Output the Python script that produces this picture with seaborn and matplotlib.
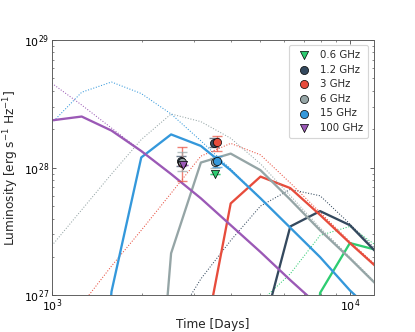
import numpy as np
import pandas as pd
import matplotlib
matplotlib.use("Agg")
import matplotlib.pyplot as plt
import seaborn as sns

# model time grid (days)
t_grid = [1000, 1259, 1585, 1995, 2512, 3162, 3981, 5012, 6310, 7943, 10000, 12589]
nan = np.nan

# log10 luminosity of the model curves (solid / dotted) per band
lum_06 = [nan, nan, nan, nan, nan, nan, nan, nan, 24.0, 27.02, 27.41, 27.35]
lum_06_dot = [nan, nan, nan, nan, nan, nan, 26.5, 26.95, 27.17, 27.47, 27.54, 27.37]
lum_12 = [nan, nan, nan, nan, nan, nan, 24.5, 26.66, 27.54, 27.66, 27.55, 27.31]
lum_12_dot = [nan, nan, nan, nan, 26.75, 27.13, 27.43, 27.70, 27.83, 27.78, 27.56, 27.33]
lum_3 = [nan, nan, nan, nan, nan, 26.5, 27.72, 27.93, 27.84, 27.63, 27.41, 27.20]
lum_3_dot = [26.6, 26.93, 27.23, 27.51, 27.80, 28.09, 28.19, 28.10, 27.88, 27.65, 27.42, 27.21]
lum_6 = [nan, nan, nan, 24.5, 27.33, 28.04, 28.11, 27.98, 27.75, 27.51, 27.29, 27.06]
lum_6_dot = [27.39, 27.67, 27.95, 28.22, 28.42, 28.36, 28.23, 28.03, 27.78, 27.53, 27.30, 27.07]
lum_15 = [nan, 24.0, 27.03, 28.08, 28.26, 28.17, 27.98, 27.76, 27.53, 27.30, 27.04, 26.82]
lum_15_dot = [28.35, 28.59, 28.67, 28.58, 28.42, 28.21, 27.99, 27.76, 27.53, 27.30, 27.04, 26.82]
lum_100 = [28.37, 28.40, 28.29, 28.13, 27.95, 27.76, 27.55, 27.34, 27.12, 26.91, 26.70, 26.50]
lum_100_dot = [28.66, 28.49, 28.31, 28.13, 27.95, 27.76, 27.55, 27.34, 27.12, 26.91, 26.70, 26.50]

# observed points
bands = ["0.6 GHz", "1.2 GHz", "3 GHz", "6 GHz", "15 GHz", "100 GHz"]
colors = ["#2ecc71", "#34495e", "#e74c3c", "#95a5a6", "#3498db", "#9b59b6"]
markers = ["v", "o", "o", "o", "o", "v"]
obs_t = {
    "0.6 GHz": [3530],
    "1.2 GHz": [2720, 3490],
    "3 GHz": [2733, 3580],
    "6 GHz": [2733, 3530],
    "15 GHz": [3580],
    "100 GHz": [2760],
}
obs_L = {
    "0.6 GHz": [8.9e27],
    "1.2 GHz": [1.13e28, 1.55e28],
    "3 GHz": [1.08e28, 1.58e28],
    "6 GHz": [1.1e28, 1.1e28],
    "15 GHz": [1.12e28],
    "100 GHz": [1.04e28],
}
obs_lo = {
    "0.6 GHz": [0],
    "1.2 GHz": [0.1e28, 0.1e28],
    "3 GHz": [0.30e28, 0.23e28],
    "6 GHz": [0.15e28, 0.1e28],
    "15 GHz": [0.1e28],
    "100 GHz": [0],
}
obs_hi = {
    "0.6 GHz": [0],
    "1.2 GHz": [0.1e28, 0.15e28],
    "3 GHz": [0.37e28, 0.20e28],
    "6 GHz": [0.22e28, 0.1e28],
    "15 GHz": [0.12e28],
    "100 GHz": [0],
}

models = [
    (lum_06, lum_06_dot), (lum_12, lum_12_dot), (lum_3, lum_3_dot),
    (lum_6, lum_6_dot), (lum_15, lum_15_dot), (lum_100, lum_100_dot),
]

sns.set_style("ticks")
plt.rcParams.update({
    "xtick.direction": "in", "ytick.direction": "in",
    "xtick.top": True, "ytick.right": True,
    "xtick.major.pad": 2, "ytick.major.pad": 2,
    "axes.edgecolor": "0.35", "xtick.color": "0.35", "ytick.color": "0.35",
    "xtick.labelcolor": "black", "ytick.labelcolor": "black",
})
plt.rcParams["font.family"] = ["DejaVu Sans"]

fig, ax = plt.subplots(figsize=(5, 4), dpi=83)
fig.subplots_adjust(left=0.125, right=0.9, bottom=0.11, top=0.88)

t = np.array(t_grid)
for (solid, dotted), c in zip(models, colors):
    for vals, ls, lw in [(dotted, ":", 0.9), (solid, "-", 2.0)]:
        v = np.array(vals)
        m = ~np.isnan(v)
        df = pd.DataFrame({"t": t[m], "L": 10 ** v[m]})
        sns.lineplot(data=df, x="t", y="L", color=c, lw=lw, ls=ls,
                     estimator=None, sort=False, ax=ax)

for b, c, mk in zip(bands, colors, markers):
    ax.errorbar(obs_t[b], obs_L[b], yerr=[obs_lo[b], obs_hi[b]], fmt="none",
                ecolor=c, alpha=0.7, capsize=4, elinewidth=1.2, capthick=1.2)
    df = pd.DataFrame({"t": obs_t[b], "L": obs_L[b]})
    sns.scatterplot(data=df, x="t", y="L", color=c, marker=mk, s=50,
                    edgecolor="black", linewidth=0.6, label=b, ax=ax, zorder=5)

ax.set_xscale("log")
ax.set_yscale("log")
ax.set_xlim(1000, 12000)
ax.set_ylim(1e27, 1e29)
ax.set_xlabel("Time [Days]", fontsize=10.5, labelpad=3)
ax.set_ylabel(r"Luminosity [erg s$^{-1}$ Hz$^{-1}$]", fontsize=10.5, labelpad=3)
ax.tick_params(labelsize=9.5)
ax.legend(loc="upper right", fontsize=8.8, frameon=True, fancybox=True,
          handletextpad=0.6, borderpad=0.5, labelspacing=0.45)

fig.savefig("out.png", dpi=83)
